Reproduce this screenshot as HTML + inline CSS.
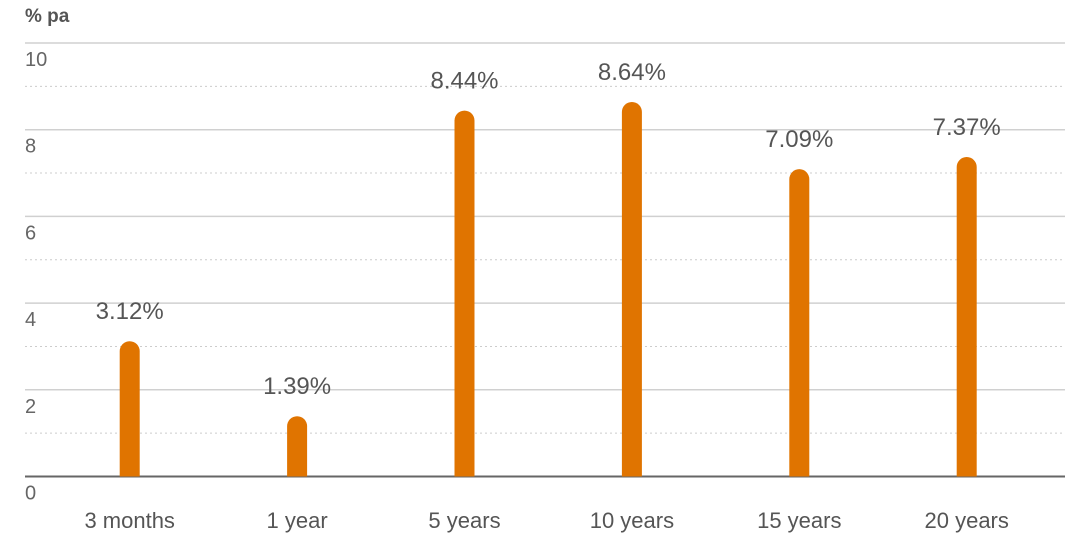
<!DOCTYPE html>
<html><head><meta charset="utf-8"><style>
body{margin:0;background:#fff;font-family:"Liberation Sans",sans-serif;}
svg{display:block}
</style></head><body>
<svg id="chart" width="1080" height="542">
<text x="25" y="22" font-size="19" font-weight="bold" fill="#555">% pa</text>
<g id="grid"></g><g id="bars"></g><g id="labels"></g>
</svg>
<script>
const categories=["3 months","1 year","5 years","10 years","15 years","20 years"];
const values=[3.12,1.39,8.44,8.64,7.09,7.37];
const valueLabels=["3.12%","1.39%","8.44%","8.64%","7.09%","7.37%"];
const ticks=[0,2,4,6,8,10];
const NS="http://www.w3.org/2000/svg";
const y0=476.5,pxPer=43.35,x0=46,step=167.4,left=25,right=1065,bw=20;
const y=v=>y0-v*pxPer;
const x=i=>x0+step*(i+0.5);
function mk(t,a,p){const e=document.createElementNS(NS,t);for(const k in a)e.setAttribute(k,a[k]);p.appendChild(e);return e;}
const g=document.getElementById('grid'),b=document.getElementById('bars'),l=document.getElementById('labels');
for(let v=1;v<=9;v+=2){
 const ln=mk('line',{x1:left,x2:right,y1:y(v),y2:y(v),stroke:'#ccc','stroke-width':1,'stroke-dasharray':'2,3'},g);
 
 
}
ticks.forEach(v=>{
 const ln=mk('line',{x1:left,x2:right,y1:y(v),y2:y(v),stroke:v===0?'#666':'#d0d0d0','stroke-width':v===0?2:1.5},g);
 
 
 const t=mk('text',{x:left,y:y(v)+23,'font-size':20,fill:'#666'},g);
 t.textContent=v;
 
 
});
values.forEach((v,i)=>{
 const top=y(v),h=y0-top;
 const p=mk('path',{d:`M${x(i)-bw/2},${y0} L${x(i)-bw/2},${top+bw/2} A${bw/2},${bw/2} 0 0 1 ${x(i)+bw/2},${top+bw/2} L${x(i)+bw/2},${y0} Z`,fill:'#e07400'},b);
 
 
 const t=mk('text',{x:x(i),y:top-22,'font-size':24,fill:'#555','text-anchor':'middle'},l);
 t.textContent=valueLabels[i];
 
 
 const c=mk('text',{x:x(i),y:528,'font-size':22,fill:'#555','text-anchor':'middle'},l);
 c.textContent=categories[i];
 
 
});
</script>
</body></html>
